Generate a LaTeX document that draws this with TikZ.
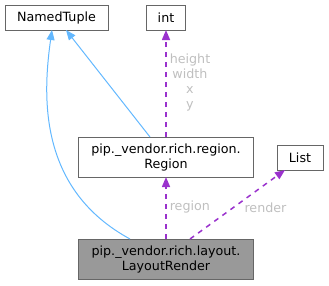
\documentclass[tikz,border=0pt]{standalone}
\usepackage{fontspec}
\setmainfont{DejaVu Sans}
\usetikzlibrary{arrows.meta}
\definecolor{boxline}{HTML}{666666}
\definecolor{inherit}{HTML}{63B8FF}
\definecolor{member}{HTML}{9A32CD}
\definecolor{lblgray}{HTML}{BFBFBF}
\definecolor{current}{HTML}{999999}
\begin{document}
\begin{tikzpicture}[x=1pt,y=-1pt,
    font=\fontsize{12.7}{15}\selectfont,
    cls/.style = {rectangle,draw=boxline,line width=1pt,fill=white,inner sep=0pt,outer sep=0pt,align=center},
    base/.style = {-{Triangle[length=10pt,width=8pt]},inherit,line width=1pt},
    usage/.style = {-{Triangle[length=10pt,width=8pt]},member,line width=1.5pt,dash pattern=on 5pt off 5pt},
    lbl/.style = {text=lblgray,align=center,inner sep=1pt}]
\useasboundingbox (0,0) rectangle (329,285);
% classes
\node[cls,minimum width=103pt,minimum height=25pt] (tuple) at (56.5,17.5) {NamedTuple};
\node[cls,minimum width=39pt,minimum height=25pt] (int) at (166,17.5) {int};
\node[cls,minimum width=175pt,minimum height=40pt] (region) at (166,157) {pip.\_vendor.rich.region.\\Region};
\node[cls,minimum width=46pt,minimum height=25pt] (list) at (300,157.5) {List};
\node[cls,fill=current,minimum width=175pt,minimum height=40pt] (render) at (166,259) {pip.\_vendor.rich.layout.\\LayoutRender};
% inheritance
\draw[base] ([xshift=-16pt]region.north) -- ([xshift=9.5pt]tuple.south);
\draw[base] ([xshift=-36pt]render.north) .. controls (40,190) and (42,100) .. ([xshift=-4.5pt]tuple.south);
% members
\draw[usage] (region.north) -- node[lbl,pos=0.51,anchor=west,xshift=2pt] {height\\width\\x\\y} (int.south);
\draw[usage] (render.north) -- node[lbl,pos=0.51,anchor=west,xshift=2pt] {region} (region.south);
\draw[usage] ([xshift=24pt]render.north) -- node[lbl,pos=0.45,anchor=west,xshift=10pt] {render} ([xshift=-15pt]list.south);
\end{tikzpicture}
\end{document}
